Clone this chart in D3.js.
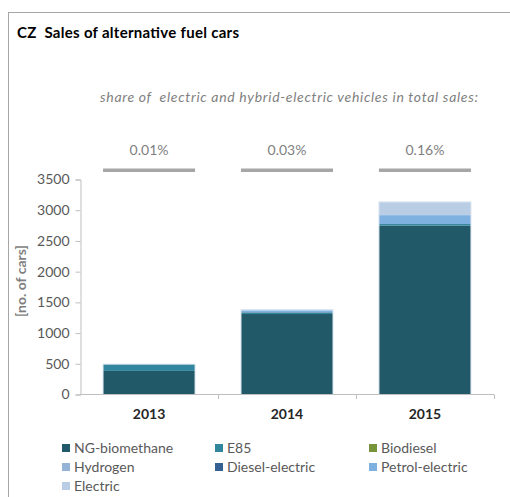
<!DOCTYPE html>
<html>
<head>
<meta charset="utf-8">
<script src="https://cdn.jsdelivr.net/npm/d3@7"></script>
<style>
	body { margin: 0; background: #fff; }
	text { font-family: Lato, "Open Sans", sans-serif; white-space: pre; }
</style>
</head>
<body>
<script>
var years = ['2013', '2014', '2015'];
var seriesNames = ['NG-biomethane', 'E85', 'Biodiesel', 'Hydrogen', 'Diesel-electric', 'Petrol-electric', 'Electric'];
var seriesColors = ['#215968', '#31859c', '#77933c', '#95b3d7', '#366092', '#7eb1e0', '#b9cde5'];
var ngBiomethane = [384, 1310, 2750];
var e85 = [110, 25, 25];
var biodiesel = [0, 0, 0];
var hydrogen = [0, 0, 0];
var dieselElectric = [0, 5, 0];
var petrolElectric = [0, 30, 145];
var electric = [0, 12, 215];
var shareLabels = ['0.01%', '0.03%', '0.16%'];
var yTicks = [0, 500, 1000, 1500, 2000, 2500, 3000, 3500];

var width = 510, height = 497;

var svg = d3.select('body').append('svg')
	.attr('width', width)
	.attr('height', height);

// frame
svg.append('rect')
	.attr('x', 8.5).attr('y', 12.5)
	.attr('width', 520).attr('height', 500)
	.attr('fill', 'none')
	.attr('stroke', '#a6a6a6');

svg.append('text')
	.attr('x', 17).attr('y', 38)
	.attr('font-size', 15).attr('font-weight', 'bold')
	.attr('fill', '#000')
	.attr('textLength', 222)
	.text('CZ  Sales of alternative fuel cars');

svg.append('text')
	.attr('x', 100).attr('y', 102)
	.attr('font-size', 14).attr('font-style', 'italic')
	.attr('fill', '#7f7f7f')
	.attr('textLength', 378)
	.text('share of  electric and hybrid-electric vehicles in total sales:');

var table = years.map(function (y, i) {
	return {
		year: y,
		'NG-biomethane': ngBiomethane[i],
		'E85': e85[i],
		'Biodiesel': biodiesel[i],
		'Hydrogen': hydrogen[i],
		'Diesel-electric': dieselElectric[i],
		'Petrol-electric': petrolElectric[i],
		'Electric': electric[i]
	};
});

var x = d3.scaleBand().domain(years).range([80, 494]).paddingInner(0.333).paddingOuter(0.167);
var y = d3.scaleLinear().domain([0, 3500]).range([394.5, 179.5]);
var color = d3.scaleOrdinal().domain(seriesNames).range(seriesColors);

var stack = d3.stack().keys(seriesNames)(table);

// y axis
var yAxis = svg.append('g')
	.attr('transform', 'translate(80.5,0)')
	.call(d3.axisLeft(y).tickValues(yTicks).tickFormat(d3.format('d')).tickSize(5).tickPadding(6));
yAxis.select('.domain').attr('stroke', '#bfbfbf');
yAxis.selectAll('line').attr('stroke', '#bfbfbf');
yAxis.selectAll('text')
	.attr('fill', '#595959')
	.attr('font-size', 14)
	.style('font-family', 'Lato, sans-serif');

svg.append('text')
	.attr('transform', 'translate(26,281) rotate(-90)')
	.attr('text-anchor', 'middle')
	.attr('font-size', 14).attr('font-weight', 'bold')
	.attr('fill', '#7f7f7f')
	.text('[no. of cars]');

// bars
svg.append('g').selectAll('g')
	.data(stack)
	.join('g')
		.attr('fill', function (d) { return color(d.key); })
	.selectAll('rect')
	.data(function (d) { return d; })
	.join('rect')
		.attr('x', function (d) { return x(d.data.year); })
		.attr('y', function (d) { return y(d[1]); })
		.attr('width', x.bandwidth())
		.attr('height', function (d) { return y(d[0]) - y(d[1]); });

// bar outline
svg.append('g').selectAll('rect')
	.data(table)
	.join('rect')
		.attr('x', function (d) { return x(d.year); })
		.attr('y', function (d) { return y(d3.sum(seriesNames, function (k) { return d[k]; })); })
		.attr('width', x.bandwidth())
		.attr('height', function (d) { return y(0) - y(d3.sum(seriesNames, function (k) { return d[k]; })); })
		.attr('fill', 'none')
		.attr('stroke', '#dce6f0')
		.attr('stroke-width', 1);

// x axis
var xAxisG = svg.append('g');
xAxisG.append('line')
	.attr('x1', 80).attr('x2', 494)
	.attr('y1', 394.5).attr('y2', 394.5)
	.attr('stroke', '#bfbfbf');
xAxisG.selectAll('.tk')
	.data(years)
	.join('line')
		.attr('class', 'tk')
		.attr('x1', function (d) { return Math.round(x(d) + x.bandwidth() + x.step() * x.paddingInner() / 2) + 0.5; })
		.attr('x2', function (d) { return Math.round(x(d) + x.bandwidth() + x.step() * x.paddingInner() / 2) + 0.5; })
		.attr('y1', 394.5).attr('y2', 399)
		.attr('stroke', '#bfbfbf');
xAxisG.selectAll('text')
	.data(years)
	.join('text')
		.attr('x', function (d) { return x(d) + x.bandwidth() / 2; })
		.attr('y', 419)
		.attr('text-anchor', 'middle')
		.attr('font-size', 14).attr('font-weight', 'bold')
		.attr('fill', '#262626')
		.text(function (d) { return d; });

// share labels with gray bars
var share = svg.append('g');
share.selectAll('text')
	.data(years)
	.join('text')
		.attr('x', function (d) { return x(d) + x.bandwidth() / 2; })
		.attr('y', 155)
		.attr('text-anchor', 'middle')
		.attr('font-size', 14)
		.attr('fill', '#7f7f7f')
		.text(function (d, i) { return shareLabels[i]; });
share.selectAll('rect')
	.data(years)
	.join('rect')
		.attr('x', function (d) { return x(d); })
		.attr('y', 168.5)
		.attr('width', x.bandwidth())
		.attr('height', 3.5)
		.attr('fill', '#a6a6a6');

// legend
var legendX = [62, 215, 369];
var legendY = [448, 467, 486];
var legend = svg.append('g').selectAll('g')
	.data(seriesNames)
	.join('g')
		.attr('transform', function (d, i) {
			return 'translate(' + [legendX[i % 3], legendY[Math.floor(i / 3)]] + ')';
		});
legend.append('rect')
	.attr('x', 0).attr('y', -4)
	.attr('width', 8).attr('height', 8)
	.attr('fill', function (d) { return color(d); });
legend.append('text')
	.attr('x', 12).attr('y', 5)
	.attr('font-size', 14)
	.attr('fill', '#595959')
	.text(function (d) { return d; });
</script>
</body>
</html>
